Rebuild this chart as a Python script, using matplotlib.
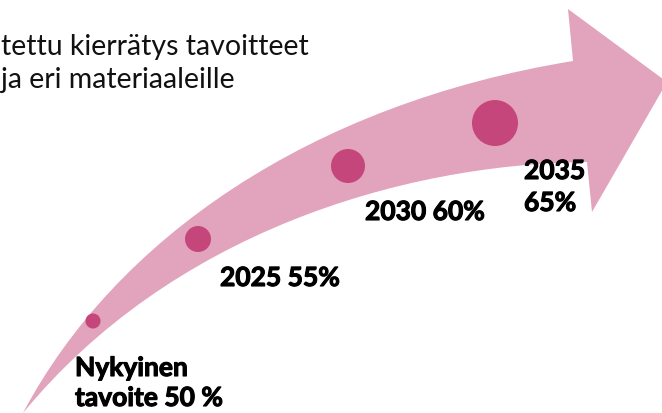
import numpy as np
import matplotlib
matplotlib.use("Agg")
import matplotlib.pyplot as plt
import matplotlib.patheffects as pe
from matplotlib.path import Path
from matplotlib.patches import PathPatch, Circle

# data
stage_labels = ["Nykyinen\ntavoite 50 %", "2025 55%", "2030 60%", "2035\n65%"]
stage_targets = [50, 55, 60, 65]
title_lines = ["tettu kierrätys tavoitteet", "ja eri materiaaleille"]

# layout (pixel coords, y down)
dot_xy = [(93, 322), (198, 240), (348, 167), (495, 124)]
dot_r = [7.5, 13, 17, 23]
label_xy = [(75, 377), (220, 287), (365, 221), (524, 180)]
label_step = [30, 0, 0, 32]

ARROW = "#E2A3BD"
DOT = "#C4467B"
FONT = ["Lato", "DejaVu Sans"]

fig = plt.figure(figsize=(6.62, 4.14), dpi=100)
ax = fig.add_axes([0, 0, 1, 1])
ax.set_xlim(0, 662)
ax.set_ylim(414, 0)
ax.axis("off")

# curved arrow body + head
verts = [(23, 414),
         (115, 240), (310, 105), (573, 62),   # upper edge
         (568, 10), (667, 83), (592, 213), (587, 163),
         (400, 165), (170, 235), (23, 414),   # lower edge back to tail
         (23, 414)]
codes = [Path.MOVETO,
         Path.CURVE4, Path.CURVE4, Path.CURVE4,
         Path.LINETO, Path.LINETO, Path.LINETO, Path.LINETO,
         Path.CURVE4, Path.CURVE4, Path.CURVE4,
         Path.CLOSEPOLY]
ax.add_patch(PathPatch(Path(verts, codes), facecolor=ARROW, edgecolor="none"))

for (x, y), r in zip(dot_xy, dot_r):
    ax.add_patch(Circle((x, y), r, facecolor=DOT, edgecolor="none"))

bold_fx = [pe.withStroke(linewidth=0.8, foreground="black")]
for lab, (x, y), step in zip(stage_labels, label_xy, label_step):
    for i, line in enumerate(lab.split("\n")):
        ax.text(x, y + i * step, line, family=FONT, fontweight="bold",
                fontsize=19, color="black", ha="left", va="baseline",
                path_effects=bold_fx)

for i, line in enumerate(title_lines):
    ax.text(1, 55 + i * 33, line, family=FONT, fontsize=20.5,
            color="#111111", ha="left", va="baseline")

fig.savefig("out.png", dpi=100)
